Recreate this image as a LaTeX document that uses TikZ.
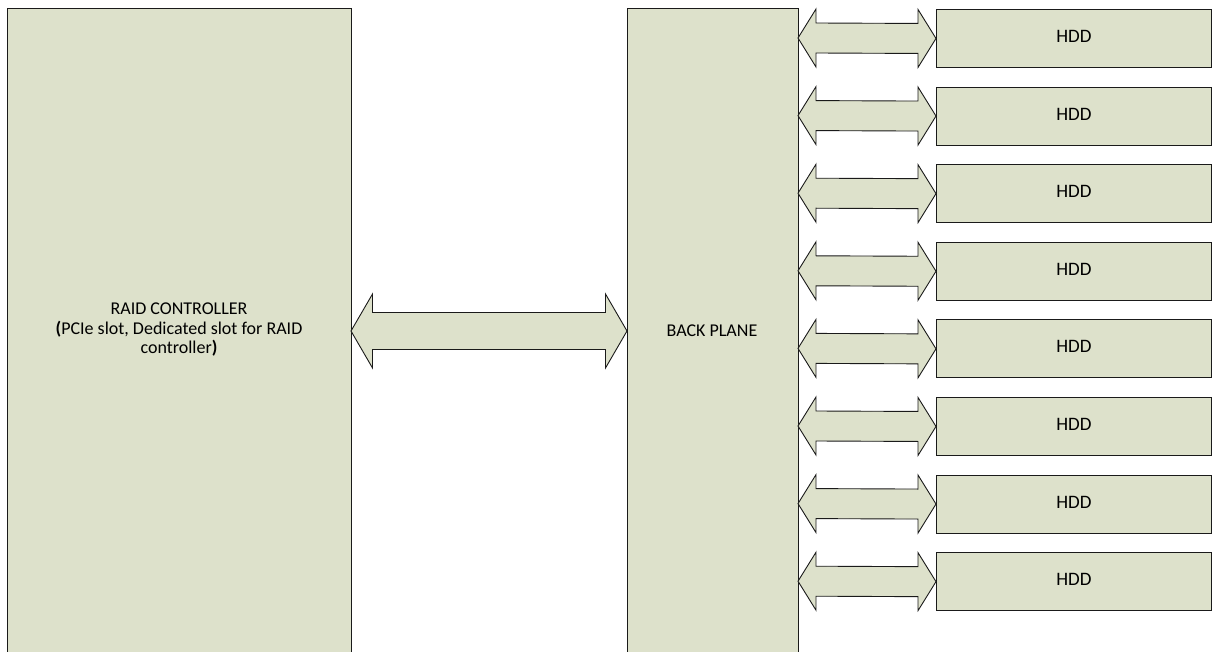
\documentclass[tikz,border=0pt]{standalone}
\usepackage{fontspec}
\setmainfont{Carlito}
\usetikzlibrary{calc}
\definecolor{boxfill}{HTML}{DDE1CB}
\definecolor{edge}{HTML}{1A1A1A}
\tikzset{
  blockbox/.style={draw=edge, fill=boxfill, line width=0.9pt},
  arrowshape/.style={draw=edge, fill=boxfill, line width=0.9pt, line join=miter},
  lbl/.style={font=\fontsize{18}{19.5}\selectfont, align=center, text=black, inner sep=0pt},
  hddlbl/.style={font=\fontsize{19}{20}\selectfont, text=black}
}
\newcommand\dblarrow[5]{%
  \draw[arrowshape] (#1) -- ($(#1)+(#3,-#4)$) -- ($(#1)+(#3,-#5)$) -- ($(#2)+(-#3,-#5)$)
    -- ($(#2)+(-#3,-#4)$) -- (#2) -- ($(#2)+(-#3,#4)$) -- ($(#2)+(-#3,#5)$)
    -- ($(#1)+(#3,#5)$) -- ($(#1)+(#3,#4)$) -- cycle;}
\begin{document}
\begin{tikzpicture}[x=1pt,y=-1pt]
\useasboundingbox (0,0) rectangle (1215,652);
\clip (0,0) rectangle (1215,652);
% main blocks
\draw[blockbox] (7.5,8.5) rectangle (351,670);
\coordinate (raid-e) at (351,331);
\node[lbl] (raid) at (179,330) {RAID CONTROLLER\\\textbf{(}PCIe slot, Dedicated slot for RAID\\controller\textbf{)}};
\draw[blockbox] (627,8.5) rectangle (798,670);
\coordinate (bp-w) at (627,331);
\node[lbl] (bp) at (712,331) {BACK PLANE};
% big arrow
\dblarrow{raid-e}{bp-w}{21.5}{37}{18.5}
% HDDs
\foreach \i in {0,...,7}{
  \pgfmathsetmacro{\t}{9+77.6*\i}
  \pgfmathsetmacro{\c}{\t+29}
  \node[blockbox, minimum width=275pt, minimum height=58pt, anchor=north west, inner sep=0pt] (h\i) at (936,\t) {};
  \node[hddlbl] at ($(h\i.center)+(0,-2)$) {HDD};
  \coordinate (bpt\i) at (798,\c);
  \dblarrow{bpt\i}{h\i.west}{18}{29}{15}
}
\end{tikzpicture}
\end{document}
